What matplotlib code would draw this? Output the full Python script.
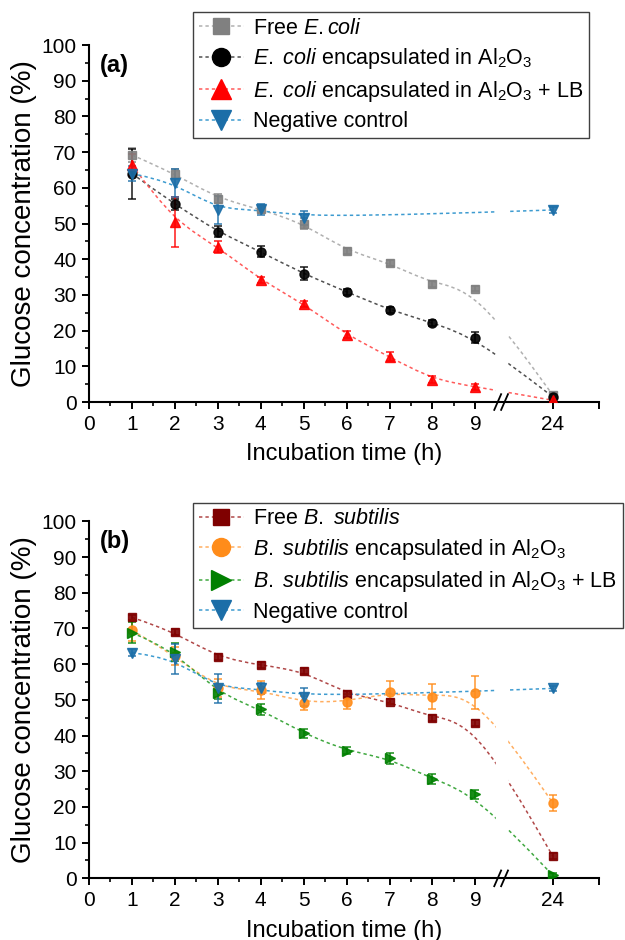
import numpy as np
import matplotlib
matplotlib.use("Agg")
import matplotlib.pyplot as plt
from matplotlib.path import Path
from matplotlib.patches import PathPatch
from matplotlib.lines import Line2D

plt.rcParams['font.family'] = ['Liberation Sans', 'DejaVu Sans']
plt.rcParams['mathtext.fontset'] = 'custom'
plt.rcParams['mathtext.rm'] = 'Liberation Sans'
plt.rcParams['mathtext.it'] = 'Liberation Sans:italic'
plt.rcParams['mathtext.bf'] = 'Liberation Sans:bold'

# data
hours = [1, 2, 3, 4, 5, 6, 7, 8, 9, 24]
nan = np.nan

free_ecoli = [69.2, 63.9, 57.0, 54.0, 50.0, 42.3, 39.0, 33.0, 31.8, 2.0]
free_ecoli_err = [2.0, 1.5, 1.2, 1.0, 1.5, 0.8, 0.8, 0.8, 0.8, 0.5]
ecoli_al = [64.0, 55.4, 47.7, 42.1, 35.9, 30.9, 25.8, 22.2, 18.0, 1.5]
ecoli_al_err = [7.0, 1.5, 1.5, 1.5, 1.8, 0.8, 0.8, 0.8, 1.5, 0.8]
ecoli_lb = [66.4, 50.5, 43.5, 34.2, 27.5, 18.8, 12.7, 6.3, 4.3, 0.5]
ecoli_lb_err = [3.0, 7.0, 1.7, 0.8, 0.8, 1.0, 1.2, 1.0, 0.8, 0.5]
neg_a = [64.0, 61.3, 53.8, 54.0, 51.5, nan, nan, nan, nan, 53.8]
neg_a_err = [2.0, 4.0, 4.0, 1.5, 2.0, nan, nan, nan, nan, 0.8]

free_bs = [73.1, 68.9, 61.9, 59.7, 58.1, 51.6, 49.5, 45.0, 43.6, 6.3]
free_bs_err = [0.8, 0.8, 0.8, 0.8, 0.8, 0.8, 0.8, 0.8, 0.8, 0.8]
bs_al = [69.5, 62.3, 53.2, 52.7, 49.2, 49.5, 52.1, 50.9, 52.0, 21.2]
bs_al_err = [3.0, 2.5, 2.5, 2.5, 2.0, 2.0, 3.2, 3.5, 4.7, 2.2]
bs_lb = [68.8, 63.5, 51.8, 47.3, 40.6, 35.7, 33.6, 27.8, 23.5, 0.9]
bs_lb_err = [3.0, 2.5, 1.5, 1.5, 1.2, 1.0, 1.5, 1.5, 1.2, 0.5]
neg_b = [63.2, 61.4, 53.2, 53.2, 50.7, nan, nan, nan, nan, 53.2]
neg_b_err = [1.0, 4.3, 4.0, 1.5, 2.5, nan, nan, nan, nan, 0.8]

labels_a = [r"Free $\mathit{E.coli}$",
            r"$\mathit{E.\ coli}$ encapsulated in Al$_2$O$_3$",
            r"$\mathit{E.\ coli}$ encapsulated in Al$_2$O$_3$ + LB",
            "Negative control"]
labels_b = [r"Free $\mathit{B.\ subtilis}$",
            r"$\mathit{B.\ subtilis}$ encapsulated in Al$_2$O$_3$",
            r"$\mathit{B.\ subtilis}$ encapsulated in Al$_2$O$_3$ + LB",
            "Negative control"]

BREAK_POS = 10.8   # where 24 h sits on the broken axis
XMAX = 11.88


def xpos(h):
    return np.array([v if v <= 9 else BREAK_POS for v in h], dtype=float)


def bspline_path(xs, ys):
    # cubic B-spline through clamped end points, as bezier segments
    p = np.column_stack([xs, ys])
    p = np.vstack([p[0], p[0], p, p[-1], p[-1]])
    verts, codes = [], []
    for i in range(1, len(p) - 2):
        b0 = (p[i - 1] + 4 * p[i] + p[i + 1]) / 6
        b1 = (2 * p[i] + p[i + 1]) / 3
        b2 = (p[i] + 2 * p[i + 1]) / 3
        b3 = (p[i] + 4 * p[i + 1] + p[i + 2]) / 6
        if not verts:
            verts.append(b0)
            codes.append(Path.MOVETO)
        verts += [b1, b2, b3]
        codes += [Path.CURVE4] * 3
    return Path(verts, codes)


def draw_panel(ax, series, labels, tag, legend_anchor):
    handles = []
    for (vals, errs, mcol, lcol, mk, ms), lab in zip(series, labels):
        x = xpos(hours)
        y = np.array(vals, dtype=float)
        e = np.array(errs, dtype=float)
        ok = ~np.isnan(y)
        ax.add_patch(PathPatch(bspline_path(x[ok], y[ok]), fill=False, edgecolor=lcol,
                               lw=1.1, ls=(0, (2.2, 2)), zorder=2))
        ax.errorbar(x[ok], y[ok], yerr=e[ok], fmt=mk, ms=ms, color=mcol, mec=mcol,
                    ecolor=mcol, elinewidth=1.1, capsize=3, capthick=1.1, alpha=0.9, zorder=4)
        handles.append(Line2D([], [], color=lcol, lw=1.1, ls=(0, (2.2, 2)), marker=mk,
                              ms=ms * 2.0, mfc=mcol, mec=mcol))
    # white gap across the axis break
    ax.axvspan(9.47, 9.73, ymin=0.01, ymax=1, color='white', zorder=3)
    for dx in (-0.08, 0.08):
        ax.plot([9.6 + dx - 0.08, 9.6 + dx + 0.08], [-0.022, 0.022], color='black',
                lw=1.3, transform=ax.get_xaxis_transform(), clip_on=False, zorder=5)

    ax.set_xlim(0, XMAX)
    ax.set_ylim(0, 100)
    ax.set_xticks(list(range(10)) + [BREAK_POS, XMAX])
    ax.set_xticklabels([str(i) for i in range(10)] + ['24', ''])
    ax.set_xticks(np.arange(0.5, 9, 1), minor=True)
    ax.set_yticks(range(0, 101, 10))
    ax.set_yticks(range(5, 100, 10), minor=True)
    ax.tick_params(which='major', length=5, width=1.4, labelsize=15, pad=4)
    ax.tick_params(which='minor', length=3, width=1.2)
    for s in ('top', 'right'):
        ax.spines[s].set_visible(False)
    for s in ('left', 'bottom'):
        ax.spines[s].set_linewidth(1.5)
    ax.set_xlabel("Incubation time (h)", fontsize=17, labelpad=7)
    ax.set_ylabel("Glucose concentration (%)", fontsize=20, labelpad=3)
    ax.text(0.022, 0.944, tag, transform=ax.transAxes, fontsize=17, fontweight='bold',
            va='center', ha='left')
    leg = ax.legend(handles, labels, loc='upper left', bbox_to_anchor=legend_anchor,
                    bbox_transform=fig.transFigure, fontsize=15.5, frameon=True, fancybox=False,
                    framealpha=1, edgecolor='#404040', handlelength=2.1, handletextpad=0.45,
                    labelspacing=0.35, borderpad=0.25, borderaxespad=0)
    leg.get_frame().set_linewidth(1.0)


fig = plt.figure(figsize=(6.25, 9.4), dpi=100)
ax1 = fig.add_axes([0.1424, 0.5723, 0.816, 0.3798])
ax2 = fig.add_axes([0.1424, 0.0656, 0.816, 0.3798])

series_a = [
    (free_ecoli, free_ecoli_err, '#808080', '#b0b0b0', 's', 6.0),
    (ecoli_al, ecoli_al_err, '#000000', '#505050', 'o', 6.5),
    (ecoli_lb, ecoli_lb_err, '#ff0000', '#ff5a5a', '^', 7.0),
    (neg_a, neg_a_err, '#1b6ea8', '#3d9bd0', 'v', 7.0),
]
series_b = [
    (free_bs, free_bs_err, '#7f0000', '#b04848', 's', 6.0),
    (bs_al, bs_al_err, '#ff8c1a', '#ffae60', 'o', 6.5),
    (bs_lb, bs_lb_err, '#008000', '#40a840', '>', 7.0),
    (neg_b, neg_b_err, '#1b6ea8', '#3d9bd0', 'v', 7.0),
]

draw_panel(ax1, series_a, labels_a, '(a)', (0.309, 0.987))
draw_panel(ax2, series_b, labels_b, '(b)', (0.309, 0.465))

fig.savefig("out.png", dpi=100)
